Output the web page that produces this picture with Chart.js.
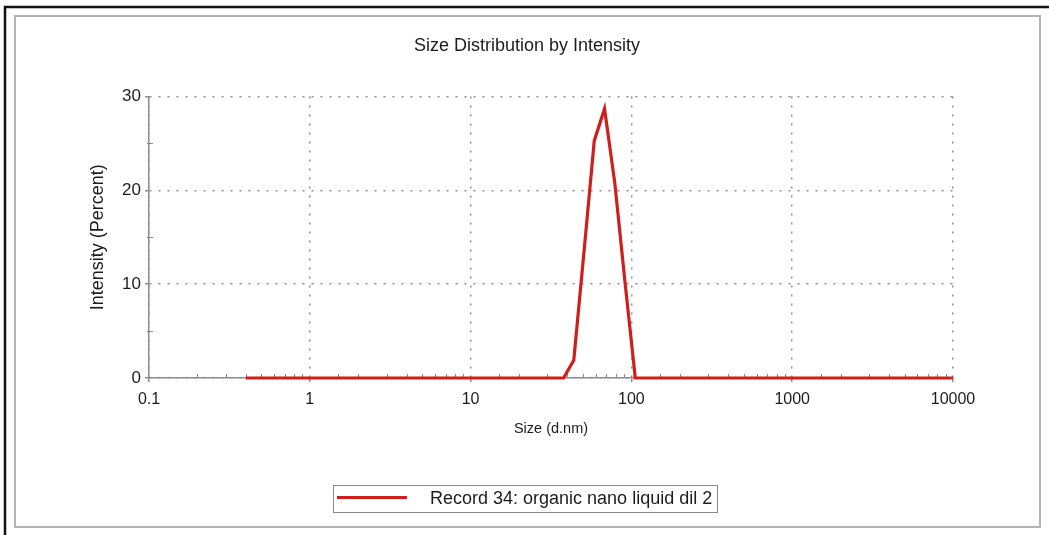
<!DOCTYPE html>
<html>
<head>
<meta charset="utf-8">
<script src="https://cdn.jsdelivr.net/npm/chart.js@4/dist/chart.umd.min.js"></script>
<style>
  body { margin: 0; background: #fff; }
  canvas { display: block; }
</style>
</head>
<body>
<canvas id="sizeChart" width="1049" height="535"></canvas>
<script>
// size classes (d.nm) and intensity (%) for the record
const sizes = [
  0.4, 0.4632, 0.5365, 0.6213, 0.7195, 0.8332, 0.9649, 1.117, 1.294, 1.499,
  1.736, 2.010, 2.328, 2.696, 3.122, 3.615, 4.187, 4.849, 5.615, 6.503,
  7.531, 8.721, 10.10, 11.70, 13.54, 15.69, 18.17, 21.04, 24.36, 28.21,
  32.67, 37.84, 43.82, 50.75, 58.77, 68.06, 78.82, 91.28, 105.7, 122.4,
  141.8, 164.2, 190.1, 220.2, 255.0, 295.3, 342.0, 396.1, 458.7, 531.2,
  615.1, 712.4, 825.0, 955.4, 1106, 1281, 1484, 1718, 1990, 2305,
  2669, 3091, 3580, 4145, 4801, 5560, 6439, 7456, 8635, 10000
];
const intensity = [
  0, 0, 0, 0, 0, 0, 0, 0, 0, 0,
  0, 0, 0, 0, 0, 0, 0, 0, 0, 0,
  0, 0, 0, 0, 0, 0, 0, 0, 0, 0,
  0, 0, 1.9, 13.5, 25.3, 28.7, 20.8, 10.2, 0, 0,
  0, 0, 0, 0, 0, 0, 0, 0, 0, 0,
  0, 0, 0, 0, 0, 0, 0, 0, 0, 0,
  0, 0, 0, 0, 0, 0, 0, 0, 0, 0
];
const recordLabel = 'Record 34: organic nano liquid dil 2';
const xTickLabels = ['0.1', '1', '10', '100', '1000', '10000'];
const yTickLabels = [0, 10, 20, 30];

const FONT = "'Liberation Sans', Arial, sans-serif";
const TEXT = '#1c1c1c';
const AXIS = '#8c8c8c';
const GRID = '#8f8f8f';
const LINE = '#cf1f1c';

function isDecade(v){
  const l = Math.log10(v);
  return Math.abs(l - Math.round(l)) < 1e-6;
}

// frames, inner minor ticks and the boxed legend
const decorPlugin = {
  id: 'decor',
  beforeDraw(chart){
    const c = chart.ctx;
    c.save();
    c.fillStyle = '#fff';
    c.fillRect(0, 0, chart.width, chart.height);
    // outer dark edge
    c.strokeStyle = '#111';
    c.lineWidth = 2.5;
    c.beginPath();
    c.moveTo(5, chart.height);
    c.lineTo(5, 7);
    c.lineTo(chart.width, 7);
    c.stroke();
    // inner panel
    c.strokeStyle = '#b4b4b4';
    c.lineWidth = 2;
    c.strokeRect(15, 16, 1025, 511);
    c.restore();
  },
  beforeDatasetsDraw(chart){
    const c = chart.ctx;
    const xs = chart.scales.x, ys = chart.scales.y;
    const a = chart.chartArea;
    c.save();
    c.strokeStyle = AXIS;
    c.lineWidth = 1;
    c.beginPath();
    xs.ticks.forEach(t => {
      if (isDecade(t.value)) return;
      const px = Math.round(xs.getPixelForValue(t.value)) + 0.5;
      c.moveTo(px, a.bottom - 4);
      c.lineTo(px, a.bottom);
    });
    ys.ticks.forEach(t => {
      if (t.value % 10 === 0) return;
      const py = Math.round(ys.getPixelForValue(t.value)) + 0.5;
      c.moveTo(a.left - 2, py);
      c.lineTo(a.left + 4, py);
    });
    c.stroke();
    c.restore();
  },
  afterDraw(chart){
    const c = chart.ctx;
    const ds = chart.data.datasets[0];
    c.save();
    c.strokeStyle = '#8a8a8a';
    c.lineWidth = 1;
    c.strokeRect(333.5, 485.5, 384, 27);
    c.strokeStyle = ds.borderColor;
    c.lineWidth = 3;
    c.beginPath();
    c.moveTo(337, 497.5);
    c.lineTo(407, 497.5);
    c.stroke();
    c.fillStyle = TEXT;
    c.font = '18px ' + FONT;
    c.textBaseline = 'middle';
    c.fillText(ds.label, 430, 499);
    c.restore();
  }
};

new Chart(document.getElementById('sizeChart'), {
  type: 'line',
  data: {
    datasets: [{
      label: recordLabel,
      data: sizes.map((s, i) => ({x: s, y: intensity[i]})),
      borderColor: LINE,
      borderWidth: 3.2,
      pointRadius: 0,
      tension: 0,
      fill: false,
      clip: false
    }]
  },
  options: {
    responsive: false,
    devicePixelRatio: 1,
    animation: false,
    layout: { padding: { left: 15, right: 10, top: 0, bottom: 87 } },
    plugins: {
      legend: { display: false },
      tooltip: { enabled: false },
      title: {
        display: true,
        text: 'Size Distribution by Intensity',
        color: TEXT,
        font: { family: FONT, size: 18, weight: 'normal' },
        padding: { top: 35, bottom: 40 }
      }
    },
    scales: {
      x: {
        type: 'logarithmic',
        min: 0.1,
        max: 10000,
        afterFit(s){ s.height = 70; },
        border: { display: true, color: AXIS, width: 1.5, dash: [2, 7] },
        grid: {
          color: ctx => (ctx.tick && isDecade(ctx.tick.value)) ? GRID : 'rgba(0,0,0,0)',
          tickColor: ctx => (ctx.tick && isDecade(ctx.tick.value)) ? AXIS : 'rgba(0,0,0,0)',
          lineWidth: 1.5,
          tickLength: 4,
          drawTicks: true
        },
        ticks: {
          autoSkip: false,
          maxRotation: 0,
          padding: 8,
          color: TEXT,
          font: { family: FONT, size: 16 },
          callback(v){
            if (!isDecade(v)) return '';
            return xTickLabels[Math.round(Math.log10(v)) + 1];
          }
        },
        title: {
          display: true,
          text: 'Size (d.nm)',
          color: TEXT,
          font: { family: FONT, size: 14.5 },
          padding: { top: 0, bottom: 10 }
        }
      },
      y: {
        min: 0,
        max: 30,
        afterFit(s){ s.width = 134; },
        border: { display: true, color: AXIS, width: 1.5, dash: [2, 7] },
        grid: {
          color: ctx => (ctx.tick && ctx.tick.value % 10 === 0) ? GRID : 'rgba(0,0,0,0)',
          tickColor: ctx => (ctx.tick && ctx.tick.value % 10 === 0) ? AXIS : 'rgba(0,0,0,0)',
          lineWidth: 1.5,
          tickLength: 4
        },
        ticks: {
          stepSize: 5,
          autoSkip: false,
          padding: 4,
          color: TEXT,
          font: { family: FONT, size: 17 },
          callback(v){ return yTickLabels.includes(v) ? String(v) : ''; }
        },
        title: {
          display: true,
          text: 'Intensity (Percent)',
          color: TEXT,
          font: { family: FONT, size: 18 },
          padding: { top: 72, bottom: 0 }
        }
      },
      // empty right-hand gutter so the plot ends short of the panel edge
      yGutter: {
        position: 'right',
        display: true,
        afterFit(s){ s.width = 86; },
        border: { display: false },
        grid: { display: false },
        ticks: { display: false }
      }
    }
  },
  plugins: [decorPlugin]
});
</script>
</body>
</html>
